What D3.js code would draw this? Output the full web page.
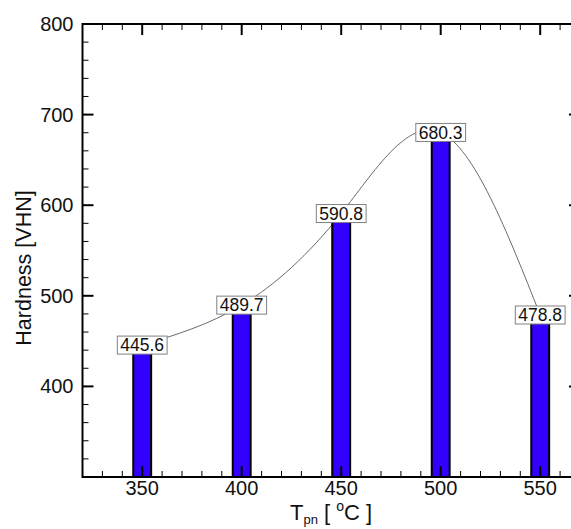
<!DOCTYPE html>
<html>
<head>
<meta charset="utf-8">
<script src="https://cdn.jsdelivr.net/npm/d3@7"></script>
<style>
  html, body { margin: 0; padding: 0; background: #fff; }
  svg { display: block; }
  text { font-family: "Liberation Sans", Arial, sans-serif; fill: #111; }
</style>
</head>
<body>
<svg id="chart" width="571" height="529"></svg>
<script>
// Plasma-nitriding temperature vs. surface hardness
const temperatures = [350, 400, 450, 500, 550];
const hardness = [445.6, 489.7, 590.8, 680.3, 478.8];
const labels = ["445.6", "489.7", "590.8", "680.3", "478.8"];
const xTickValues = [350, 400, 450, 500, 550];
const yTickValues = [400, 500, 600, 700, 800];

const svg = d3.select("#chart");

const x = d3.scaleLinear().domain([320, 570]).range([82.5, 580]);
const y = d3.scaleLinear().domain([300, 800]).range([477, 24]);

const barHalf = 4.5; // half bar width in °C

// minor / major ticks drawn inward on all four sides
const xMinor = d3.range(320, 571, 10).filter(v => v % 50 !== 0);
const yMinor = d3.range(300, 801, 20).filter(v => v % 100 !== 0);
const xMajor = d3.range(350, 571, 50);
const yMajor = d3.range(300, 801, 100);

const g = svg.append("g");

// curve through the data points (behind the bars and labels)
const line = d3.line()
  .x((d, i) => x(temperatures[i]))
  .y(d => y(d))
  .curve(d3.curveNatural);

g.append("path")
  .datum(hardness)
  .attr("d", line)
  .attr("fill", "none")
  .attr("stroke", "#6a6a6a")
  .attr("stroke-width", 1);

// bars
g.selectAll("rect.bar")
  .data(hardness)
  .join("rect")
  .attr("class", "bar")
  .attr("x", (d, i) => x(temperatures[i] - barHalf))
  .attr("width", (d, i) => x(temperatures[i] + barHalf) - x(temperatures[i] - barHalf))
  .attr("y", d => y(d))
  .attr("height", d => y(300) - y(d))
  .attr("fill", "#3300ff")
  .attr("stroke", "#000")
  .attr("stroke-width", 2);

// tick marks
const tickG = g.append("g").attr("stroke", "#000");
function hTick(v, len, w, side) {
  const yy = y(v);
  const x0 = side === "left" ? x.range()[0] : x.range()[1];
  const dir = side === "left" ? 1 : -1;
  tickG.append("line").attr("x1", x0).attr("x2", x0 + dir * len)
    .attr("y1", yy).attr("y2", yy).attr("stroke-width", w);
}
function vTick(v, len, w, side) {
  const xx = x(v);
  const y0 = side === "bottom" ? y.range()[0] : y.range()[1];
  const dir = side === "bottom" ? -1 : 1;
  tickG.append("line").attr("x1", xx).attr("x2", xx)
    .attr("y1", y0).attr("y2", y0 + dir * len).attr("stroke-width", w);
}
["left", "right"].forEach(s => {
  yMinor.forEach(v => hTick(v, 6, 1, s));
  yMajor.forEach(v => hTick(v, 11, 2, s));
});
["bottom", "top"].forEach(s => {
  xMinor.forEach(v => vTick(v, 6, 1, s));
  xMajor.forEach(v => vTick(v, 11, 2, s));
});

// frame
g.append("rect")
  .attr("x", x.range()[0]).attr("y", y.range()[1])
  .attr("width", x.range()[1] - x.range()[0])
  .attr("height", y.range()[0] - y.range()[1])
  .attr("fill", "none").attr("stroke", "#000").attr("stroke-width", 2);

// value labels in boxes, centred on each data point
const lblFont = 17.5;
const lbl = g.selectAll("g.lbl")
  .data(hardness)
  .join("g")
  .attr("class", "lbl")
  .attr("transform", (d, i) => `translate(${x(temperatures[i])},${y(d)})`);
lbl.append("text")
  .attr("text-anchor", "middle")
  .attr("dy", "0.36em")
  .attr("font-size", lblFont)
  .text((d, i) => labels[i]);
lbl.each(function () {
  const t = d3.select(this).select("text");
  const bb = t.node().getBBox();
  d3.select(this).insert("rect", "text")
    .attr("x", bb.x - 3).attr("width", bb.width + 6)
    .attr("y", -9).attr("height", 18)
    .attr("fill", "#fff").attr("stroke", "#808080").attr("stroke-width", 1);
});

// tick labels
g.selectAll("text.ylab")
  .data(yTickValues)
  .join("text")
  .attr("class", "ylab")
  .attr("x", x.range()[0] - 9)
  .attr("y", d => y(d))
  .attr("dy", "0.35em")
  .attr("text-anchor", "end")
  .attr("font-size", 20)
  .text(d => d);

g.selectAll("text.xlab")
  .data(xTickValues)
  .join("text")
  .attr("class", "xlab")
  .attr("x", d => x(d))
  .attr("y", 495)
  .attr("text-anchor", "middle")
  .attr("font-size", 20)
  .text(d => d);

// axis titles
g.append("text")
  .attr("transform", `translate(31,268) rotate(-90)`)
  .attr("text-anchor", "middle")
  .attr("font-size", 21.5)
  .text("Hardness [VHN]");

const xt = g.append("text")
  .attr("x", 290)
  .attr("y", 520)
  .attr("font-size", 22);
xt.append("tspan").text("T");
xt.append("tspan").attr("font-size", 13).attr("dy", 4).text("pn");
xt.append("tspan").attr("dy", -4).text(" [ ");
xt.append("tspan").attr("font-size", 14).attr("dy", -9).text("o");
xt.append("tspan").attr("dy", 9).text("C ]");
</script>
</body>
</html>
